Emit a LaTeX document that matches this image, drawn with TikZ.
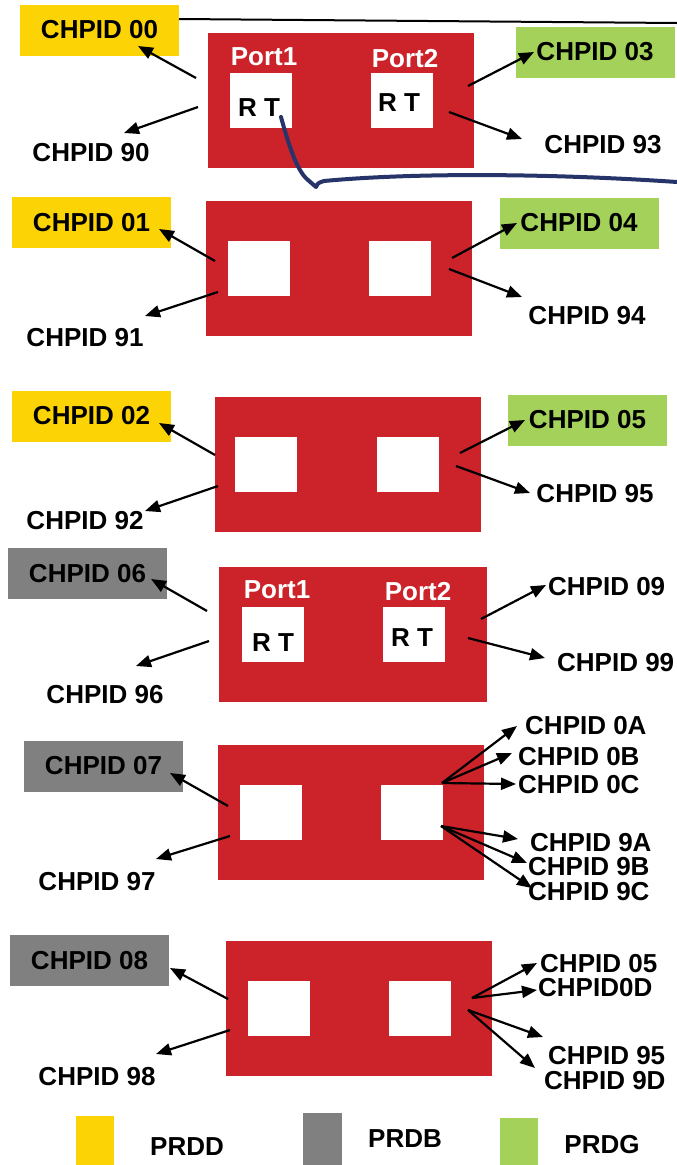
\documentclass[tikz,border=0pt]{standalone}
\usepackage{fontspec}
\setmainfont{Liberation Sans}
\usetikzlibrary{arrows.meta}
\definecolor{cardred}{HTML}{CC2229}
\definecolor{prdd}{HTML}{FCD305}
\definecolor{prdb}{HTML}{808080}
\definecolor{prdg}{HTML}{A3D15A}
\definecolor{cable}{HTML}{27346A}

\begin{document}
\begin{tikzpicture}[x=1pt, y=-1pt,
  lbl/.style={font=\fontsize{26}{30}\selectfont\bfseries, inner sep=0pt},
  chbox/.style={lbl, minimum width=159pt, minimum height=51pt},
  card/.style={fill=cardred, inner sep=0pt, minimum width=266pt, minimum height=135pt},
  port/.style={fill=white, inner sep=0pt, minimum width=62pt, minimum height=55pt},
  arr/.style={-{Triangle[length=15pt,width=12pt]}, line width=2.2pt}]
  \useasboundingbox (0,0) rectangle (677,1165);

  % adapter 1
  \node[card] (card1) at (340.5,100) {};
  \node[port] (p1a) at (261,100.5) {};
  \node[port] (p1b) at (401.5,100.5) {};
  \node[lbl, white] (pl1a) at (264,57) {Port1};
  \node[lbl, white] (pl1b) at (405,59) {Port2};
  \node[lbl] (rt1a) at (259,108) {R T};
  \node[lbl] (rt1b) at (399,103) {R T};
  \node[chbox, fill=prdd] (c00) at (99.5,30) {CHPID 00};
  \node[chbox, fill=prdg] (c03) at (595,52) {CHPID 03};
  \node[lbl] (c90) at (91,153) {CHPID 90};
  \node[lbl] (c93) at (603,145) {CHPID 93};
  \coordinate (s00) at (196,78);  \coordinate (t00) at (138,46);
  \coordinate (s90) at (198,107); \coordinate (t90) at (124,133);
  \coordinate (s03) at (468,86);  \coordinate (t03) at (534,52);
  \coordinate (s93) at (449,112); \coordinate (t93) at (522,139);
  \draw[arr] (s00) -- (t00);
  \draw[arr] (s90) -- (t90);
  \draw[arr] (s03) -- (t03);
  \draw[arr] (s93) -- (t93);
  \coordinate (l0) at (179,19);
  \coordinate (l1) at (677,23);
  \draw[line width=2pt] (l0) -- (l1);
  \coordinate (k0) at (281,117);
  \coordinate (k1) at (677,182);
  \draw[cable, line width=4pt, line cap=round, line join=round]
    (k0) .. controls (290,150) and (298,172) .. (308,180) -- (316,187)
    .. controls (318,183) .. (324,181) .. controls (420,172) and (560,174) .. (k1);

  % adapter 2
  \node[card] (card2) at (338.5,268.5) {};
  \node[port] (p2a) at (259,268.5) {};
  \node[port] (p2b) at (399.5,268.5) {};
  \node[chbox, fill=prdd] (c01) at (91.5,222.5) {CHPID 01};
  \node[chbox, fill=prdg] (c04) at (579,223) {CHPID 04};
  \node[lbl] (c91) at (85,338) {CHPID 91};
  \node[lbl] (c94) at (587,316) {CHPID 94};
  \coordinate (s01) at (215,261); \coordinate (t01) at (159,229);
  \coordinate (s91) at (218,292); \coordinate (t91) at (145,316);
  \coordinate (s04) at (452,258); \coordinate (t04) at (517,223);
  \coordinate (s94) at (449,269); \coordinate (t94) at (522,297);
  \draw[arr] (s01) -- (t01);
  \draw[arr] (s91) -- (t91);
  \draw[arr] (s04) -- (t04);
  \draw[arr] (s94) -- (t94);

  % adapter 3
  \node[card] (card3) at (347.5,464.5) {};
  \node[port] (p3a) at (266,464.5) {};
  \node[port] (p3b) at (407.5,464.5) {};
  \node[chbox, fill=prdd] (c02) at (91.5,416) {CHPID 02};
  \node[chbox, fill=prdg] (c05) at (587.5,420) {CHPID 05};
  \node[lbl] (c92) at (85,521) {CHPID 92};
  \node[lbl] (c95) at (595,494) {CHPID 95};
  \coordinate (s02) at (215,455); \coordinate (t02) at (159,423);
  \coordinate (s92) at (218,486); \coordinate (t92) at (145,511);
  \coordinate (s05) at (460,453); \coordinate (t05) at (525,420);
  \coordinate (s95) at (456,466); \coordinate (t95) at (530,493);
  \draw[arr] (s02) -- (t02);
  \draw[arr] (s92) -- (t92);
  \draw[arr] (s05) -- (t05);
  \draw[arr] (s95) -- (t95);

  % adapter 4
  \node[card, minimum width=268pt] (card4) at (353,634.5) {};
  \node[port] (p4a) at (272.5,634.5) {};
  \node[port] (p4b) at (414,634.5) {};
  \node[lbl, white] (pl4a) at (277,590) {Port1};
  \node[lbl, white] (pl4b) at (418,592) {Port2};
  \node[lbl] (rt4a) at (273,643) {R T};
  \node[lbl] (rt4b) at (412,638) {R T};
  \node[chbox, fill=prdb] (c06) at (87.5,573.5) {CHPID 06};
  \node[lbl, anchor=west] (c09) at (548,587) {CHPID 09};
  \node[lbl] (c96) at (105,695) {CHPID 96};
  \node[lbl, anchor=west] (c99) at (557,663) {CHPID 99};
  \coordinate (s06) at (207,611); \coordinate (t06) at (151,579);
  \coordinate (s96) at (209,641); \coordinate (t96) at (136,666);
  \coordinate (s09) at (481,619); \coordinate (t09) at (546,585);
  \coordinate (s99) at (468,638); \coordinate (t99) at (545,658);
  \draw[arr] (s06) -- (t06);
  \draw[arr] (s96) -- (t96);
  \draw[arr] (s09) -- (t09);
  \draw[arr] (s99) -- (t99);

  % adapter 5
  \node[card] (card5) at (351,812.5) {};
  \node[port] (p5a) at (270.5,812.5) {};
  \node[port] (p5b) at (412,812.5) {};
  \node[chbox, fill=prdb] (c07) at (103.5,766) {CHPID 07};
  \node[lbl] (c97) at (97,882) {CHPID 97};
  \node[lbl, anchor=west] (c0a) at (525,726) {CHPID 0A};
  \node[lbl, anchor=west] (c0b) at (518,757) {CHPID 0B};
  \node[lbl, anchor=west] (c0c) at (518,785) {CHPID 0C};
  \node[lbl, anchor=west] (c9a) at (530,843) {CHPID 9A};
  \node[lbl, anchor=west] (c9b) at (528,867) {CHPID 9B};
  \node[lbl, anchor=west] (c9c) at (528,892) {CHPID 9C};
  \coordinate (s07) at (228,806); \coordinate (t07) at (170,773);
  \coordinate (s97) at (230,836); \coordinate (t97) at (156,859);
  \coordinate (u5) at (442,783);
  \coordinate (d5) at (441,826);
  \coordinate (t0a) at (517,726);
  \coordinate (t0b) at (512,753);
  \coordinate (t0c) at (516,784);
  \coordinate (t9a) at (518,839);
  \coordinate (t9b) at (527,863);
  \coordinate (t9c) at (532,888);
  \draw[arr] (s07) -- (t07);
  \draw[arr] (s97) -- (t97);
  \draw[arr] (u5) -- (t0a);
  \draw[arr] (u5) -- (t0b);
  \draw[arr] (u5) -- (t0c);
  \draw[arr] (d5) -- (t9a);
  \draw[arr] (d5) -- (t9b);
  \draw[arr] (d5) -- (t9c);

  % adapter 6
  \node[card] (card6) at (359,1008.5) {};
  \node[port] (p6a) at (278.5,1008.5) {};
  \node[port] (p6b) at (420,1008.5) {};
  \node[chbox, fill=prdb] (c08) at (89.5,960.5) {CHPID 08};
  \node[lbl] (c98) at (97,1077) {CHPID 98};
  \node[lbl, anchor=west] (c05b) at (540,964) {CHPID 05};
  \node[lbl, anchor=west] (c0d) at (538,988) {CHPID0D};
  \node[lbl, anchor=west] (c95b) at (548,1056) {CHPID 95};
  \node[lbl, anchor=west] (c9d) at (544,1081) {CHPID 9D};
  \coordinate (s08) at (228,999);  \coordinate (t08) at (170,968);
  \coordinate (s98) at (230,1030); \coordinate (t98) at (156,1054);
  \coordinate (u6) at (472,998);
  \coordinate (d6) at (468,1010);
  \coordinate (t05b) at (537,963);
  \coordinate (t0d) at (537,990);
  \coordinate (t95b) at (543,1037);
  \coordinate (t9d) at (535,1068);
  \draw[arr] (s08) -- (t08);
  \draw[arr] (s98) -- (t98);
  \draw[arr] (u6) -- (t05b);
  \draw[arr] (u6) -- (t0d);
  \draw[arr] (d6) -- (t95b);
  \draw[arr] (d6) -- (t9d);

  % legend
  \fill[prdd] (76,1116) rectangle (114,1165);
  \fill[prdb] (303,1113) rectangle (342,1165);
  \fill[prdg] (500,1118) rectangle (538,1165);
  \node[lbl] (kd) at (187,1147) {PRDD};
  \node[lbl] (kb) at (405,1139) {PRDB};
  \node[lbl] (kg) at (602,1145) {PRDG};
\end{tikzpicture}
\end{document}
